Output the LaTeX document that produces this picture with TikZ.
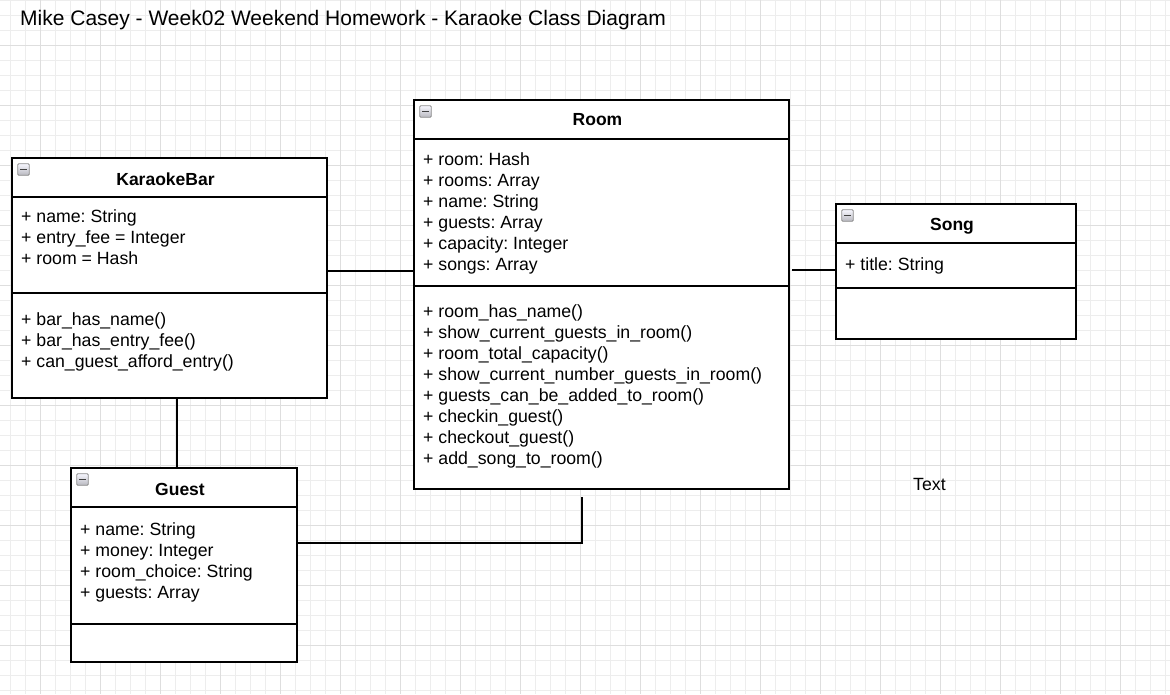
\documentclass[tikz,border=0pt]{standalone}
\usepackage{fontspec}
\setmainfont{Liberation Sans}
\frenchspacing
\begin{document}
\begin{tikzpicture}[x=1pt,y=-1pt,
  minor/.style={draw=black!7,line width=0.8pt},
  major/.style={draw=black!13,line width=0.8pt},
  part/.style={draw,line width=2pt,fill=white,anchor=north west,inner sep=0pt,outer sep=0pt},
  member/.style={anchor=base west,align=left,inner sep=0pt,font=\fontsize{17.7}{21}\selectfont},
  cname/.style={anchor=base,inner sep=0pt,font=\fontsize{17.5}{21}\selectfont\bfseries},
  icon/.style={draw=black!45,line width=0.8pt,rounded corners=1pt,top color=blue!3,bottom color=blue!10!black!28,
    minimum size=11.5pt,inner sep=0pt,outer sep=0pt,
    path picture={\draw[black!75,line width=1.6pt] ([xshift=2.5pt]path picture bounding box.west) -- ([xshift=-2.5pt]path picture bounding box.east);}},
  link/.style={line width=2.2pt}]
\useasboundingbox (0,0) rectangle (1170,694);
% background grid
\foreach \x in {10,25,...,1170} \draw[minor] (\x,0) -- (\x,694);
\foreach \y in {0,15,...,694} \draw[minor] (0,\y) -- (1170,\y);
\foreach \x in {40,100,...,1170} \draw[major] (\x,0) -- (\x,694);
\foreach \y in {45,105,...,694} \draw[major] (0,\y) -- (1170,\y);
\node[anchor=base west,inner sep=0pt,font=\fontsize{21}{25}\selectfont] (title) at (20,25) {Mike Casey - Week02 Weekend Homework - Karaoke Class Diagram};
% KaraokeBar (text nodes sit on the baseline of their last line)
\node[part,minimum width=315pt,minimum height=39pt] (KB) at (12,158) {};
\node[part,minimum width=315pt,minimum height=96pt] (KBattr) at (12,197) {};
\node[part,minimum width=315pt,minimum height=105pt] (KBops) at (12,293) {};
\node[icon] (KBicon) at (23.5,169.5) {};
\node[cname] (KBname) at (165.5,185) {KaraokeBar};
\node[member] (KBattrtxt) at (21,264) {+ name: String\\+ entry\_fee = Integer\\+ room = Hash};
\node[member] (KBopstxt) at (21,367) {+ bar\_has\_name()\\+ bar\_has\_entry\_fee()\\+ can\_guest\_afford\_entry()};
% Room
\node[part,minimum width=375pt,minimum height=39pt] (RM) at (414,100) {};
\node[part,minimum width=375pt,minimum height=147pt] (RMattr) at (414,139) {};
\node[part,minimum width=375pt,minimum height=203pt] (RMops) at (414,286) {};
\node[icon] (RMicon) at (425.5,111.5) {};
\node[cname] (RMname) at (597.5,125) {Room};
\node[member] (RMattrtxt) at (423,270) {+ room: Hash\\+ rooms: Array\\+ name: String\\+ guests: Array\\+ capacity: Integer\\+ songs: Array};
\node[member] (RMopstxt) at (423,464) {+ room\_has\_name()\\+ show\_current\_guests\_in\_room()\\+ room\_total\_capacity()\\+ show\_current\_number\_guests\_in\_room()\\+ guests\_can\_be\_added\_to\_room()\\+ checkin\_guest()\\+ checkout\_guest()\\+ add\_song\_to\_room()};
% Song
\node[part,minimum width=240pt,minimum height=39pt] (SG) at (836,204) {};
\node[part,minimum width=240pt,minimum height=45pt] (SGattr) at (836,243) {};
\node[part,minimum width=240pt,minimum height=51pt] (SGops) at (836,288) {};
\node[icon] (SGicon) at (847.5,215.5) {};
\node[cname] (SGname) at (952,230) {Song};
\node[member] (SGattrtxt) at (845,270) {+ title: String};
% Guest
\node[part,minimum width=226pt,minimum height=39pt] (GS) at (71,468) {};
\node[part,minimum width=226pt,minimum height=117pt] (GSattr) at (71,507) {};
\node[part,minimum width=226pt,minimum height=38pt] (GSops) at (71,624) {};
\node[icon] (GSicon) at (82.5,479.5) {};
\node[cname] (GSname) at (180,495) {Guest};
\node[member] (GSattrtxt) at (80,598) {+ name: String\\+ money: Integer\\+ room\_choice: String\\+ guests: Array};
\node[member] (note) at (913,490) {Text};
% connectors
\coordinate (kbr) at ([yshift=-26pt]KBattr.east);
\draw[link] (kbr) -- (kbr -| RMattr.west);
\coordinate (rs) at (792,270);
\draw[link] (rs) -- (rs -| SGattr.west);
\coordinate (kg) at ([xshift=7.5pt]KBops.south);
\draw[link] (kg) -- (kg |- GS.north);
\coordinate (gr) at (582,497);
\draw[link] ([yshift=22.5pt]GSattr.east) -| (gr);
\end{tikzpicture}
\end{document}
